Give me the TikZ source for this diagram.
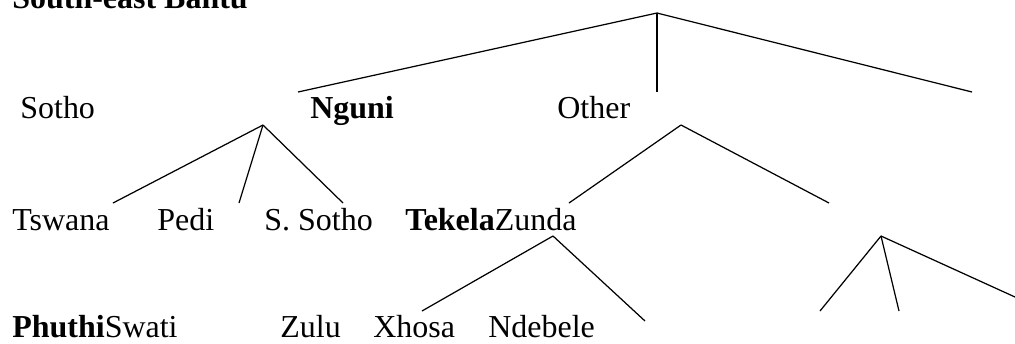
\documentclass[tikz,border=0pt]{standalone}
\usepackage{fontspec}
\setmainfont{Liberation Serif}
\begin{document}
\begin{tikzpicture}[x=0.02cm,y=-0.02cm,
  lang/.style={anchor=base west, inner sep=0pt, font=\fontsize{18.2}{22}\selectfont},
  branch/.style={line width=0.7pt}]
  \useasboundingbox (0,0) rectangle (1015,343);
  % Title
  \node[lang] (title) at (12,8) {\textbf{South-east Bantu}};

  % Top split
  \coordinate (root) at (657,13);
  \coordinate (r1) at (298,92);
  \coordinate (r2) at (657,92);
  \coordinate (r3) at (972,92);
  \foreach \c in {r1,r2,r3}
    \draw[branch] (root) -- (\c);

  % First level
  \node[lang] (sotho) at (20,118) {Sotho};
  \node[lang] (nguni) at (310,118) {\textbf{Nguni}};
  \node[lang] (other) at (557,118) {Other};

  % Sotho split
  \coordinate (s0) at (263,125);
  \coordinate (s1) at (113,203);
  \coordinate (s2) at (239,203);
  \coordinate (s3) at (343,203);
  \foreach \c in {s1,s2,s3}
    \draw[branch] (s0) -- (\c);

  % Other split
  \coordinate (o0) at (681,125);
  \coordinate (o1) at (569,203);
  \coordinate (o2) at (829,203);
  \foreach \c in {o1,o2}
    \draw[branch] (o0) -- (\c);

  % Second level
  \node[lang] (tswana) at (12,230) {Tswana};
  \node[lang] (pedi) at (157,230) {Pedi};
  \node[lang] (ssotho) at (264,230) {S. Sotho};
  \node[lang] (tekela) at (405,230) {\textbf{Tekela}Zunda};

  % Zunda split
  \coordinate (z0) at (553,236);
  \coordinate (z1) at (422,311);
  \coordinate (z2) at (645,321);
  \foreach \c in {z1,z2}
    \draw[branch] (z0) -- (\c);

  % Right split
  \coordinate (t0) at (881,236);
  \coordinate (t1) at (820,311);
  \coordinate (t2) at (899,311);
  \coordinate (t3) at (1015,297);
  \foreach \c in {t1,t2,t3}
    \draw[branch] (t0) -- (\c);

  % Third level
  \node[lang] (phuthi) at (12,337) {\textbf{Phuthi}Swati};
  \node[lang] (zulu) at (280,337) {Zulu};
  \node[lang] (xhosa) at (373,337) {Xhosa};
  \node[lang] (ndebele) at (488,337) {Ndebele};
\end{tikzpicture}
\end{document}
